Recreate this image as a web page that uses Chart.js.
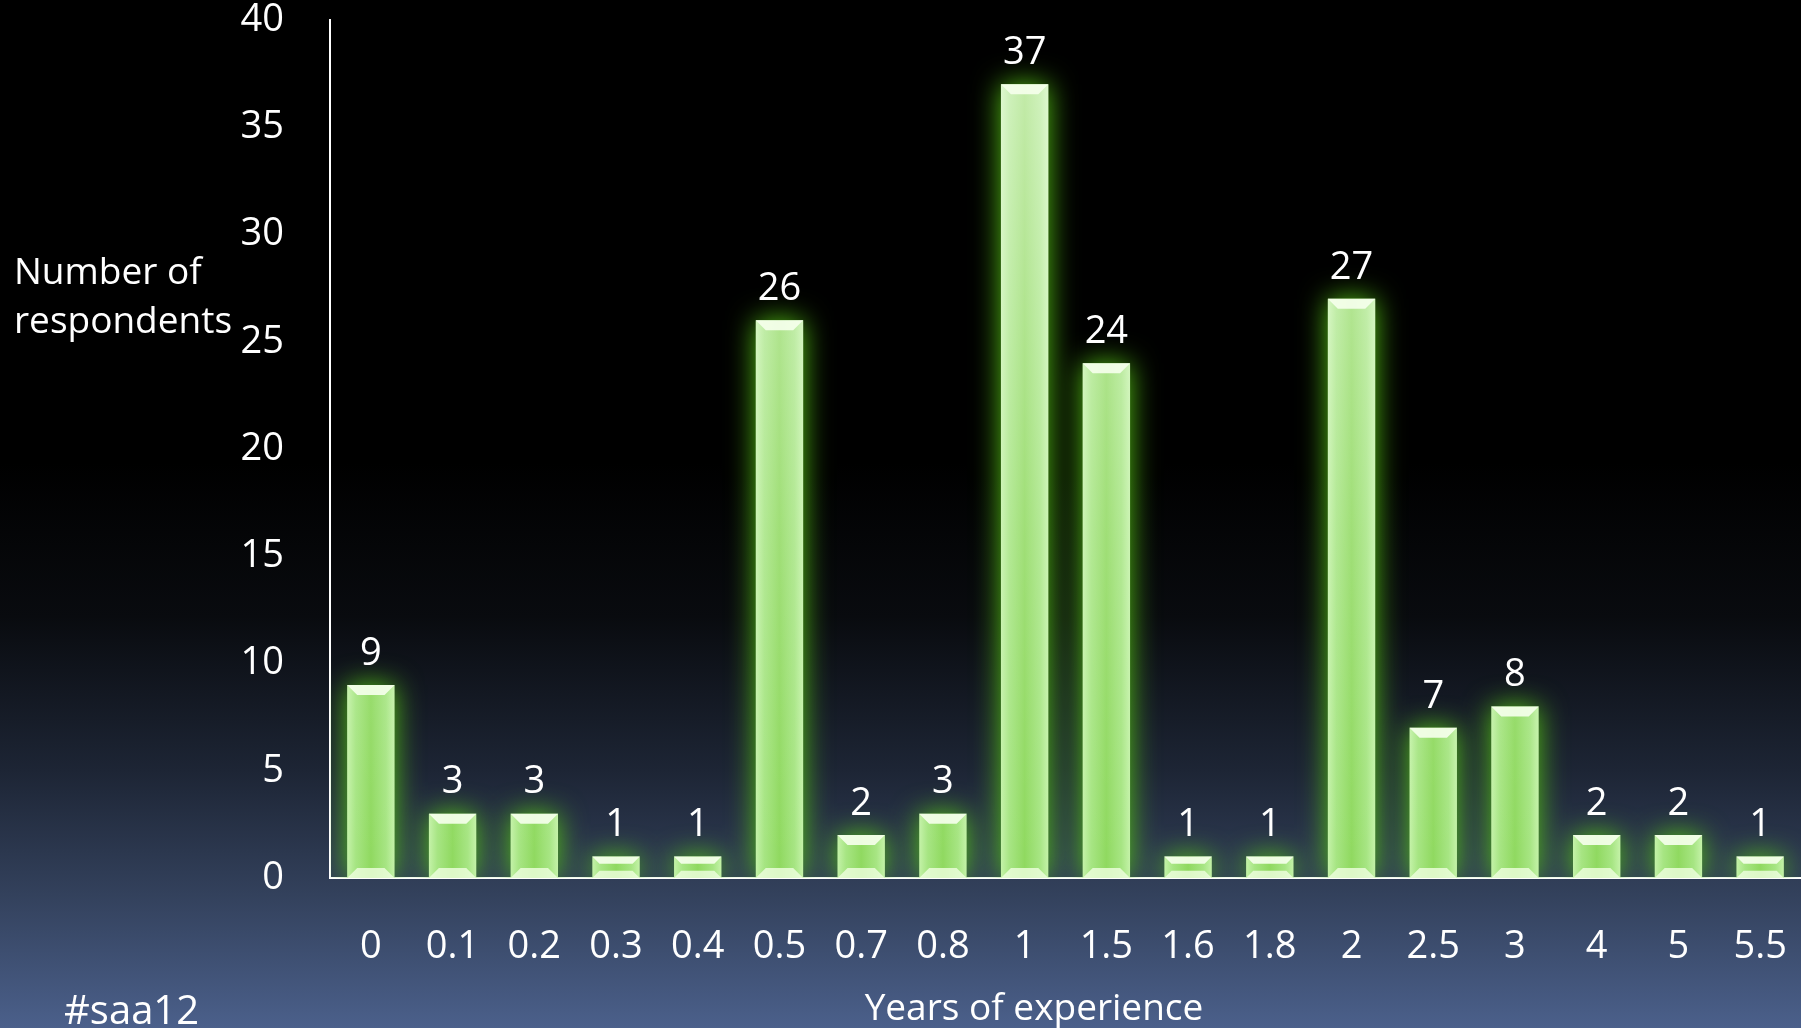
<!DOCTYPE html>
<html>
<head>
<meta charset="utf-8">
<script src="https://cdn.jsdelivr.net/npm/chart.js@4"></script>
<style>
  html, body { margin: 0; padding: 0; }
  body {
    width: 1801px; height: 1028px; overflow: hidden; position: relative;
    background: linear-gradient(to bottom, #000 0%, #000 45%, #090b0f 60%, #1d2535 75%, #33415c 87%, #4b608b 100%);
    font-family: "Open Sans", sans-serif; color: #fff;
  }
  #wrap { position: absolute; left: 0; top: 0; width: 1801px; height: 1028px; }
  .lbl { position: absolute; font-size: 37px; line-height: 1; white-space: nowrap; }
</style>
</head>
<body>
<div id="wrap"><canvas id="chart"></canvas></div>
<div class="lbl" style="left:14px; top:251px;">Number of</div>
<div class="lbl" style="left:14px; top:300px;">respondents</div>
<div class="lbl" style="left:64px; top:989px; font-size:40px;">#saa12</div>
<div class="lbl" style="left:1034px; top:987px; transform:translateX(-50%);">Years of experience</div>
<script>
'use strict';

const years = ['0', '0.1', '0.2', '0.3', '0.4', '0.5', '0.7', '0.8', '1', '1.5', '1.6', '1.8', '2', '2.5', '3', '4', '5', '5.5'];
const respondents = [9, 3, 3, 1, 1, 26, 2, 3, 37, 24, 1, 1, 27, 7, 8, 2, 2, 1];
const yTicks = [0, 5, 10, 15, 20, 25, 30, 35, 40];

const barPct = 0.58;
let canvasElem = document.getElementById('chart');

function barFill(ctx) {
  let chart = ctx.chart;
  let xs = chart.scales.x;
  if (!chart.chartArea || !xs) return '#8fd95f';
  let cx = xs.getPixelForValue(ctx.dataIndex);
  let w = xs.width / years.length * barPct;
  let g = chart.ctx.createLinearGradient(cx - w / 2, 0, cx + w / 2, 0);
  g.addColorStop(0, '#c4f2a8');
  g.addColorStop(0.18, '#a6e582');
  g.addColorStop(0.5, '#8fd95f');
  g.addColorStop(0.82, '#a6e582');
  g.addColorStop(1, '#c4f2a8');
  return g;
}

// green glow around the bars, bevel caps and value labels
const glowPlugin = {
  id: 'glow',
  beforeDatasetsDraw(chart) {
    chart.ctx.save();
    chart.ctx.shadowColor = 'rgba(85, 195, 20, 1)';
    chart.ctx.shadowBlur = 28;
  },
  afterDatasetsDraw(chart) {
    chart.ctx.restore();
    let ctx = chart.ctx;
    let area = chart.chartArea;
    let meta = chart.getDatasetMeta(0);
    ctx.save();
    meta.data.forEach((bar) => {
      let left = bar.x - bar.width / 2;
      let top = bar.y;
      let h = bar.base - bar.y;
      // paler towards the top of the plot
      let v = ctx.createLinearGradient(0, area.top, 0, area.bottom);
      v.addColorStop(0, 'rgba(255,255,255,0.5)');
      v.addColorStop(0.6, 'rgba(255,255,255,0.15)');
      v.addColorStop(1, 'rgba(255,255,255,0)');
      ctx.fillStyle = v;
      ctx.fillRect(left, top, bar.width, h);
      let cap = Math.min(10, h / 3);
      ctx.fillStyle = 'rgba(245,255,235,0.92)';
      ctx.beginPath();
      ctx.moveTo(left, top);
      ctx.lineTo(left + bar.width, top);
      ctx.lineTo(left + bar.width - cap, top + cap);
      ctx.lineTo(left + cap, top + cap);
      ctx.closePath();
      ctx.fill();
      ctx.fillStyle = 'rgba(240,255,225,0.8)';
      ctx.beginPath();
      ctx.moveTo(left, bar.base);
      ctx.lineTo(left + bar.width, bar.base);
      ctx.lineTo(left + bar.width - cap, bar.base - cap);
      ctx.lineTo(left + cap, bar.base - cap);
      ctx.closePath();
      ctx.fill();
    });
    ctx.fillStyle = '#ffffff';
    ctx.font = '38px "Open Sans", sans-serif';
    ctx.textAlign = 'center';
    ctx.textBaseline = 'middle';
    meta.data.forEach((bar, i) => {
      ctx.fillText(String(respondents[i]), bar.x, bar.y - 31);
    });
    ctx.restore();
  }
};

function renderChart() {
  let config = {
    type: 'bar',
    data: {
      labels: years,
      datasets: [{
        label: 'Number of respondents',
        data: respondents,
        backgroundColor: barFill,
        borderWidth: 0,
        barPercentage: barPct,
        categoryPercentage: 1
      }]
    },
    options: {
      responsive: false,
      animation: false,
      layout: { padding: { top: 20, right: 0, bottom: 0, left: 0 } },
      plugins: { legend: { display: false }, tooltip: { enabled: false } },
      scales: {
        x: {
          grid: { display: false, drawTicks: false },
          border: { display: true, color: '#ffffff', width: 2 },
          ticks: { color: '#ffffff', font: { family: 'Open Sans', size: 38 }, padding: 46, maxRotation: 0, autoSkip: false },
          afterFit(scale) {
            scale.height = 150;
            scale.paddingLeft = 0;
            scale.paddingRight = 0;
          }
        },
        y: {
          min: 0,
          max: 40,
          afterBuildTicks(scale) { scale.ticks = yTicks.map((v) => ({ value: v })); },
          grid: { display: false, drawTicks: false },
          border: { display: true, color: '#ffffff', width: 2 },
          ticks: { color: '#ffffff', font: { family: 'Open Sans', size: 38 }, padding: 46 },
          afterFit(scale) {
            scale.width = 330;
            scale.paddingTop = 0;
            scale.paddingBottom = 0;
          }
        }
      }
    },
    plugins: [glowPlugin]
  };
  canvasElem.width = 1801;
  canvasElem.height = 1028;
  new Chart(canvasElem, config);
}

renderChart();
</script>
</body>
</html>
